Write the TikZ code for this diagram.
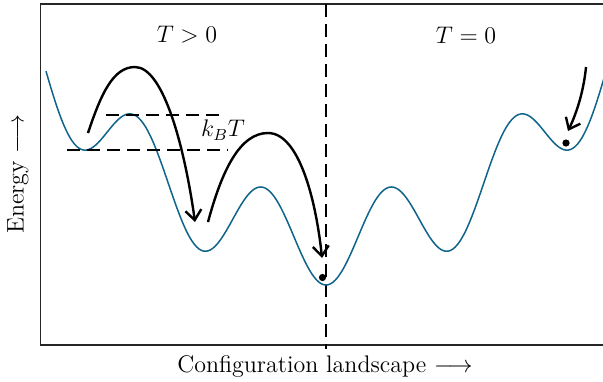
\documentclass[tikz,border=0pt]{standalone}
\usetikzlibrary{arrows.meta}
\tikzset{every node/.style={font=\large}}

\begin{document}
\begin{tikzpicture}[x=0.5pt, y=-0.5pt, >={Straight Barb[length=5pt, width=8pt]}]
  % Fixed bounding box (pixel grid of the figure)
  \path[use as bounding box] (0,0) rectangle (603,381);

  % Colours.
  \colorlet{framecol}{black!85}
  \definecolor{curvecol}{RGB}{14,100,138}

  % Frame (open on the right, cut by the page).
  \draw[line width=0.8pt, framecol] (620,4) -- (40.5,4) -- (40.5,345) -- (620,345);

  % Separation between the two regimes.
  \draw[line width=0.75pt, dash pattern=on 6.5pt off 3.5pt] (326,4) -- (326,349);

  % Energy landscape.
  \draw[line width=0.75pt, curvecol] plot[domain=-280:282, samples=240, smooth]
    ({326+\x}, {285 - ((0.002222*\x)*\x + 44.45*(1-cos(2.8685*\x)))});

  % Thermal energy band.
  \draw[line width=0.75pt, dash pattern=on 6.5pt off 3.5pt] (106,115) -- (226,115);
  \draw[line width=0.75pt, dash pattern=on 6.5pt off 3.5pt] (67,150) -- (228,150);
  \node (kT) at (223,130) {$k_BT$};

  % Points.
  \coordinate (J1s) at (88,133);
  \coordinate (J1e) at (195,222);
  \coordinate (J2s) at (208,222);
  \coordinate (J2e) at (322,258);
  \coordinate (J3s) at (586,67);
  \coordinate (J3e) at (568,131);
  \coordinate (P1) at (322.5,277.5);
  \coordinate (P2) at (566,143);

  % Jumps over barriers.
  \draw[->, line width=1.2pt] (J1s) .. controls (101,94) and (113,67) .. (135,67)
    .. controls (164,67) and (185,150) .. (J1e);
  \draw[->, line width=1.2pt] (J2s) .. controls (222,170) and (240,133) .. (268,133)
    .. controls (299,133) and (316,200) .. (J2e);
  \draw[->, line width=1.2pt] (J3s) .. controls (584,88) and (578,110) .. (J3e);

  % Particles.
  \fill (P1) circle (1.8pt);
  \fill (P2) circle (1.8pt);

  % Labels.
  \node (Tpos) at (187,35) {$T>0$};
  \node (Tzero) at (466,35) {$T=0$};
  \node[rotate=90] (ylab) at (18,174) {Energy $\longrightarrow$};
  \node (xlab) at (325,366) {Configuration landscape $\longrightarrow$};
\end{tikzpicture}
\end{document}
